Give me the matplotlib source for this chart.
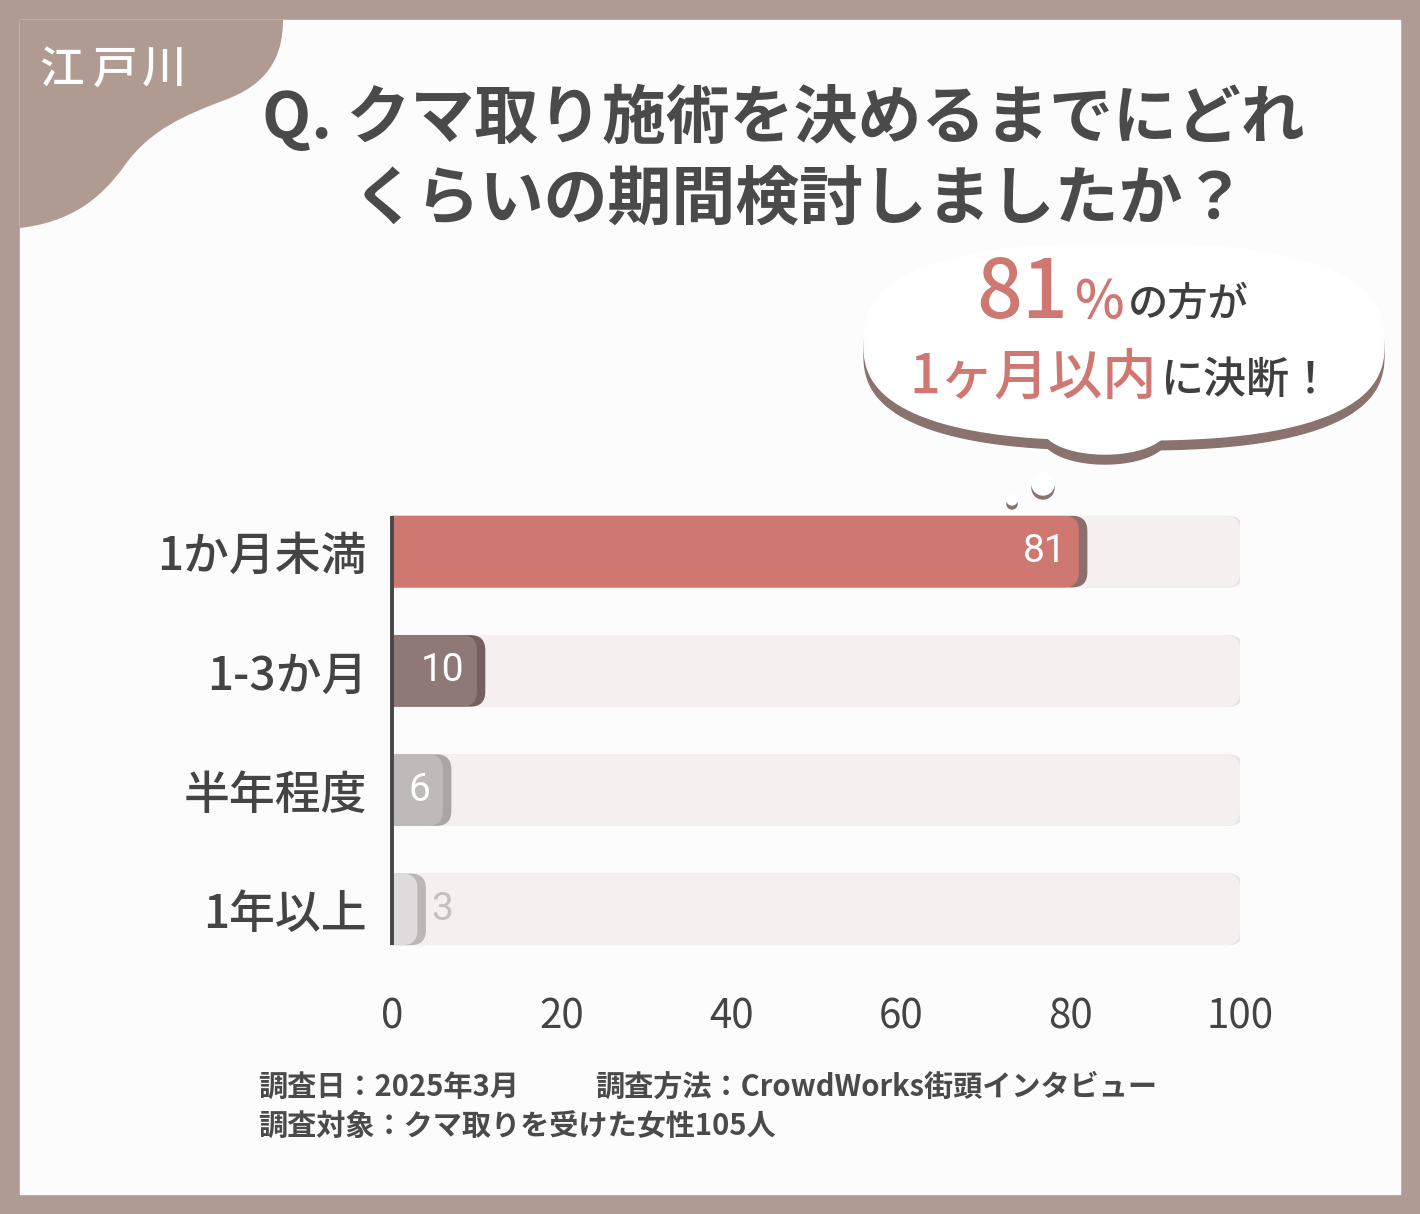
import numpy as np
import matplotlib.pyplot as plt
from matplotlib.patches import FancyBboxPatch, Rectangle, Circle, PathPatch
from matplotlib.path import Path

plt.rcParams['font.family'] = ['Noto Sans CJK JP', 'DejaVu Sans']

# --- data ---
categories = ['1か月未満', '1-3か月', '半年程度', '1年以上']
values = [81, 10, 6, 3]
bar_colors = ['#cf7872', '#8e7977', '#bdbab9', '#dddbdb']
edge_colors = ['#8c6f6c', '#74605e', '#a9a6a5', '#bab7b6']
label_colors = ['white', 'white', 'white', '#c4c0bf']
xticks = [0, 20, 40, 60, 80, 100]
x_max = 100

area_label = '江戸川'
title_lines = ['Q. クマ取り施術を決めるまでにどれ', 'くらいの期間検討しましたか？']
footer_1a = '調査日：2025年3月'
footer_1b = '調査方法：CrowdWorks街頭インタビュー'
footer_2 = '調査対象：クマ取りを受けた女性105人'

TAUPE = '#b09b93'
DARK = '#474747'
RED = '#cf7872'

W, H = 1420, 1214
fig = plt.figure(figsize=(W / 100, H / 100), dpi=100)
fig.patch.set_facecolor(TAUPE)

# background / decoration layer in pixel coords
bg = fig.add_axes([0, 0, 1, 1], zorder=0)
bg.set_xlim(0, W)
bg.set_ylim(H, 0)
bg.axis('off')
bg.add_patch(Rectangle((20, 20), 1380, 1174, color='#fcfcfc', zorder=0))

# top-left blob
verts = [(20, 20), (283, 20),
         (283, 60), (265, 85), (225, 100),
         (185, 115), (150, 130), (125, 165),
         (100, 200), (70, 222), (20, 228),
         (20, 20)]
codes = [Path.MOVETO, Path.LINETO,
         Path.CURVE4, Path.CURVE4, Path.CURVE4,
         Path.CURVE4, Path.CURVE4, Path.CURVE4,
         Path.CURVE4, Path.CURVE4, Path.CURVE4,
         Path.CLOSEPOLY]
bg.add_patch(PathPatch(Path(verts, codes), facecolor=TAUPE, edgecolor='none', zorder=1))
for ch, cx in zip(area_label, [61, 115, 164]):
    bg.text(cx, 70, ch, color='white', fontsize=32, fontweight='medium',
            va='center', ha='center', zorder=2)

# title
bg.text(783, 118, title_lines[0], color='#4a4a4a', fontsize=46, fontweight='bold',
        ha='center', va='center')
bg.text(800, 200, title_lines[1], color='#4a4a4a', fontsize=46, fontweight='bold',
        ha='center', va='center')

# speech bubble (superellipse + bottom bump)
def bubble_path(cx, cy, a, b, n, dy=0):
    t = np.linspace(0, 2 * np.pi, 200)
    ct, st = np.cos(t), np.sin(t)
    xs = cx + a * np.sign(ct) * np.abs(ct) ** (2 / n)
    ys = cy + dy + b * np.sign(st) * np.abs(st) ** (2 / n)
    return np.column_stack([xs, ys])

for dy, col in [(10, '#8a736f'), (0, 'white')]:
    bg.add_patch(plt.Polygon(bubble_path(1124, 342, 260, 98, 2.6, dy), color=col, zorder=2))
    bg.add_patch(plt.Polygon(bubble_path(1105, 428, 62, 26, 2.0, dy), color=col, zorder=2))
for (cx, cy, r) in [(1043, 484, 11), (1012, 500, 5)]:
    bg.add_patch(Circle((cx, cy + 4), r, color='#8a736f', zorder=2))
    bg.add_patch(Circle((cx, cy), r, color='white', zorder=2))

bg.text(1068, 318, '81', color=RED, fontsize=58, fontweight='medium', ha='right',
        va='baseline', zorder=3)
bg.text(1074, 318, '%', color=RED, fontsize=38, fontweight='medium', ha='left',
        va='baseline', zorder=3)
bg.text(1128, 316, 'の方が', color='#3f3f3f', fontsize=29, fontweight='medium',
        ha='left', va='baseline', zorder=3)
bg.text(1157, 394, '1ヶ月以内', color=RED, fontsize=39, fontweight='medium',
        ha='right', va='baseline', zorder=3)
bg.text(1160, 393, 'に決断！', color='#3f3f3f', fontsize=31, fontweight='medium',
        ha='left', va='baseline', zorder=3)

# footer
bg.text(258, 1087, footer_1a, color='#4a4a4a', fontsize=21, fontweight='bold', va='center')
bg.text(595, 1087, footer_1b, color='#4a4a4a', fontsize=21, fontweight='bold', va='center')
bg.text(258, 1127, footer_2, color='#4a4a4a', fontsize=21, fontweight='bold', va='center')

# --- chart ---
ax = fig.add_axes([392 / W, 1 - 969 / H, 848 / W, 477 / H], zorder=2)
ax.patch.set_alpha(0)
ax.set_xlim(0, x_max)
ax.set_ylim(len(categories) - 0.5, -0.5)
for s in ax.spines.values():
    s.set_visible(False)

px_x = 848 / x_max
px_y = 477 / len(categories)
asp = px_x / px_y
bh = 0.6
r_px = 15

def rbox(x0, x1, yc, color, z):
    w = x1 - x0
    r = min(r_px / px_x, w / 2)
    p = FancyBboxPatch((x0, yc - bh / 2), w, bh,
                       boxstyle=f'round,pad=0,rounding_size={r}',
                       mutation_aspect=asp, facecolor=color, edgecolor='none', zorder=z)
    ax.add_patch(p)

for i, v in enumerate(values):
    rbox(-5, x_max + 0.4, i, '#e7e4e4', 1)
    rbox(-5, x_max, i, '#f3f0ef', 1.5)
    rbox(-5, v + 1.0, i, edge_colors[i], 2)
    rbox(-5, v, i, bar_colors[i], 3)
    if v >= 5:
        ax.text(v - 1.5, i, str(v), ha='right', va='center', color=label_colors[i],
                fontsize=28, family=['Roboto', 'DejaVu Sans'], zorder=5)
    else:
        ax.text(v + 1.6, i, str(v), ha='left', va='center', color=label_colors[i],
                fontsize=28, family=['Roboto', 'DejaVu Sans'], zorder=5)

ax.vlines(0, -bh / 2, len(categories) - 1 + bh / 2, color=DARK, lw=2.8, zorder=6,
          clip_on=False)

ax.set_yticks(range(len(categories)))
ax.set_yticklabels(categories, fontsize=33, fontweight='medium', color='#444444')
ax.set_xticks(xticks)
ax.set_xticklabels([str(t) for t in xticks], fontsize=29, color='#444444')
ax.tick_params(axis='y', length=0, pad=18)
ax.tick_params(axis='x', length=0, pad=20)

fig.savefig('out.png', dpi=100, facecolor=fig.get_facecolor())
